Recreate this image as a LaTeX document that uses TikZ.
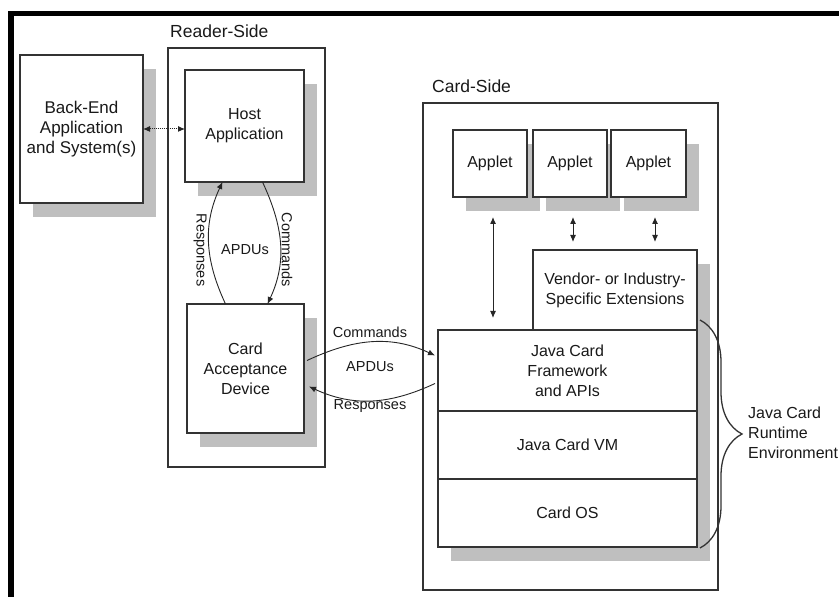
\documentclass[tikz,border=0pt]{standalone}
\usepackage{fontspec}
\setmainfont{Liberation Sans}
\usepackage{tikz}
\usetikzlibrary{arrows.meta,positioning,calc,shadows,decorations.pathreplacing}

\begin{document}
\begin{tikzpicture}[x=1pt,y=1pt,font=\fontsize{16}{20}\selectfont,text=black!90,
    box/.style={draw=black!80,line width=1.3pt,fill=white,align=center,inner sep=0pt,outer sep=0pt},
    sbox/.style={box,drop shadow={shadow xshift=13pt,shadow yshift=-14pt,fill=black!25,opacity=1}},
    frame/.style={draw=black!80,line width=1.3pt,inner sep=0pt,outer sep=0pt},
    side/.style={anchor=south west,inner sep=0pt,font=\fontsize{17.5}{21}\selectfont},
    lbl/.style={inner sep=0pt,font=\fontsize{14.5}{17}\selectfont},
    link/.style={{Latex[length=7pt,width=6pt]}-{Latex[length=7pt,width=6pt]},line width=1pt,black!85},
    apdu/.style={-{Latex[length=7pt,width=6pt]},line width=0.9pt,black!85}]
  \clip (0,0) rectangle (839,597);
  % black edge of the page
  \fill[black] (8,581) rectangle (839,586);
  \fill[black] (8,0) rectangle (14,586);

  \node[frame,minimum width=157pt,minimum height=419pt] (reader) at (246.5,339.5) {};
  \node[frame,minimum width=295pt,minimum height=487pt] (card) at (570.5,250.5) {};
  \node[side] (readerlbl) at ([xshift=2pt,yshift=10pt]reader.north west) {Reader-Side};
  \node[side] (cardlbl) at ([xshift=9pt,yshift=10pt]card.north west) {Card-Side};

  % reader side
  \node[sbox,minimum width=123pt,minimum height=148pt,font=\fontsize{17}{20}\selectfont] (backend) at (81.5,468) {Back-End\\Application\\and System(s)};
  \node[sbox,minimum width=119pt,minimum height=112pt] (host) at (244.5,471) {Host\\Application};
  \node[sbox,minimum width=117pt,minimum height=129pt] (cad) at (245.5,228.5) {Card\\Acceptance\\Device};

  % card side
  \node[sbox,minimum width=74pt,minimum height=67pt] (appleta) at (490,433.5) {Applet};
  \node[sbox,minimum width=74pt,minimum height=67pt,right=6pt of appleta] (appletb) {Applet};
  \node[sbox,minimum width=75pt,minimum height=67pt,right=4pt of appletb] (appletc) {Applet};
  \node[sbox,minimum width=164pt,minimum height=80pt] (vendor) at (615,307) {Vendor- or Industry-\\Specific Extensions};
  \node[sbox,minimum width=259pt,minimum height=81pt,anchor=north east] (fw) at (vendor.south east) {Java Card\\Framework\\and APIs};
  \node[sbox,minimum width=259pt,minimum height=68pt,below=0pt of fw] (jcvm) {Java Card VM};
  \node[sbox,minimum width=259pt,minimum height=68pt,below=0pt of jcvm] (cardos) {Card OS};

  % connectors
  \draw[link,densely dotted] (backend.east) -- (backend.east -| host.west);
  \draw[apdu] ([xshift=-20pt]cad.north) to[out=115,in=-115] ([xshift=-22pt]host.south);
  \draw[apdu] ([xshift=18pt]host.south) to[out=-65,in=65] ([xshift=22pt]cad.north);
  \node[lbl,rotate=-90] (respa) at (200,347) {Responses};
  \node[lbl,rotate=-90] (cmda) at (287,347) {Commands};
  \node[lbl] (apdua) at (245,347) {APDUs};

  \draw[apdu] ([xshift=3pt,yshift=8pt]cad.east) to[out=25,in=155] ([xshift=-3pt,yshift=15pt]fw.west);
  \draw[apdu] ([xshift=-3pt,yshift=-13pt]fw.west) to[out=-155,in=-25] ([xshift=5pt,yshift=-18pt]cad.east);
  \node[lbl] (cmdb) at (370,265) {Commands};
  \node[lbl] (apdub) at (370,230) {APDUs};
  \node[lbl] (respb) at (370,191) {Responses};

  \draw[link,shorten <=20pt,shorten >=12pt] ([xshift=3pt]appleta.south) -- ([xshift=3pt]appleta.south |- fw.north);
  \draw[link,shorten <=20pt,shorten >=8pt] ([xshift=3pt]appletb.south) -- ([xshift=3pt]appletb.south |- vendor.north);
  \draw[link,shorten <=20pt,shorten >=8pt] ([xshift=6.5pt]appletc.south) -- ([xshift=6.5pt]appletc.south |- vendor.north);

  % runtime environment brace
  \draw[line width=1.3pt,black!80,decorate,decoration={brace,amplitude=42pt}]
    ([xshift=3pt,yshift=10pt]fw.north east) -- ([xshift=3pt,yshift=-1pt]cardos.south east);
  \node[anchor=west,align=left,inner sep=0pt] (jcre) at (748,164) {Java Card\\Runtime\\Environment};
\end{tikzpicture}
\end{document}
